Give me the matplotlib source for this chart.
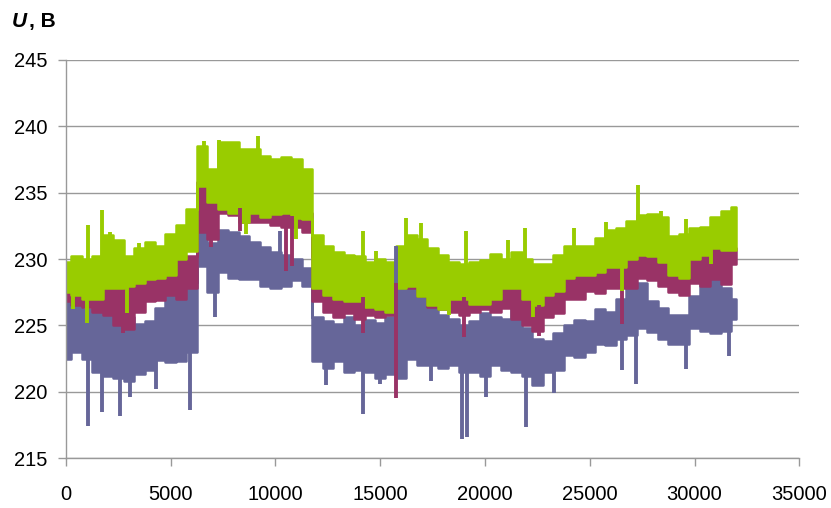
import numpy as np
import matplotlib.pyplot as plt

plt.rcParams['font.family'] = ['Liberation Sans', 'DejaVu Sans']

# band readings every 500 samples, 0 ... 32000
x = np.arange(0, 32001, 500)

green_hi = [229.8, 230.2, 230.0, 230.2, 231.8, 231.4, 230.2, 230.8, 231.3, 231.0,
            231.9, 232.6, 233.8, 238.5, 236.8, 238.8, 238.8, 238.3, 238.3, 237.8,
            237.5, 237.7, 237.5, 236.8, 231.8, 231.0, 230.5, 230.3, 230.2, 229.8,
            230.0, 229.8, 231.0, 231.8, 231.5, 230.8, 230.3, 229.8, 229.6, 229.8,
            229.9, 230.4, 230.0, 230.5, 230.0, 229.6, 229.6, 230.3, 231.0, 231.0,
            231.0, 231.6, 232.2, 232.3, 232.9, 233.3, 233.4, 233.2, 231.7, 231.9,
            232.3, 232.4, 233.2, 233.6, 233.9]
green_lo = [227.5, 227.3, 227.0, 227.0, 227.8, 227.8, 228.0, 228.2, 228.5, 228.6,
            228.8, 230.0, 230.6, 235.5, 234.3, 233.8, 233.5, 232.8, 233.5, 233.2,
            233.4, 233.5, 233.1, 233.0, 227.8, 227.3, 227.0, 226.8, 226.8, 226.4,
            226.2, 226.0, 227.8, 228.0, 227.2, 226.5, 226.2, 227.0, 227.0, 226.6,
            226.6, 227.0, 227.8, 227.8, 227.0, 226.5, 227.3, 227.6, 228.6, 228.8,
            228.8, 229.0, 229.4, 229.4, 230.0, 230.3, 230.2, 229.8, 228.8, 228.6,
            230.0, 230.3, 230.8, 230.7, 230.7]
green_spike_x = [350, 985, 1065, 1730, 2100, 2890, 3500, 6600, 7300, 8600,
                 9160, 11000, 14180, 14810, 16240, 16960, 18300, 19100, 21090, 21900,
                 22270, 24270, 25780, 26560, 27290, 28400, 29590, 30800]
green_spike_y = [226.2, 225.2, 232.6, 233.7, 232.0, 225.9, 231.2, 238.9, 239.0, 231.9,
                 239.3, 231.5, 232.1, 230.6, 233.1, 232.7, 225.8, 232.1, 231.4, 232.3,
                 225.6, 232.3, 232.8, 227.6, 235.6, 233.6, 233.0, 229.6]

magenta_hi = [228.6, 229.0, 228.8, 229.2, 229.0, 228.5, 228.0, 228.5, 228.8, 229.2,
              229.5, 230.1, 230.2, 235.8, 234.8, 235.0, 234.8, 234.5, 234.3, 234.0,
              234.3, 234.2, 234.0, 233.5, 230.2, 229.6, 229.3, 229.0, 228.8, 228.6,
              228.7, 228.5, 230.2, 230.4, 229.8, 229.5, 229.2, 228.8, 228.5, 228.5,
              228.6, 229.0, 229.4, 229.0, 228.5, 228.2, 228.3, 228.6, 229.3, 229.6,
              229.4, 229.5, 230.3, 230.1, 231.0, 231.5, 231.2, 231.0, 230.5, 230.4,
              230.8, 231.0, 231.4, 231.3, 230.8]
magenta_lo = [226.8, 226.5, 226.4, 226.0, 225.8, 225.0, 224.7, 226.0, 226.8, 226.9,
              227.3, 227.0, 227.8, 232.0, 231.5, 233.5, 233.3, 232.8, 232.8, 232.8,
              232.6, 232.4, 232.4, 232.0, 226.8, 226.0, 225.6, 225.9, 225.5, 225.8,
              225.6, 225.8, 228.0, 227.8, 227.2, 226.4, 226.2, 226.0, 225.8, 226.0,
              226.2, 226.0, 226.3, 225.5, 225.0, 224.6, 225.6, 225.9, 227.0, 227.0,
              227.6, 227.4, 227.8, 227.8, 227.8, 228.6, 228.4, 228.0, 227.5, 227.3,
              228.2, 228.0, 228.5, 228.1, 229.6]
magenta_spike_x = [2700, 6900, 8300, 10500, 10800, 14180, 15770, 18990, 22600, 26560]
magenta_spike_y = [224.4, 230.9, 232.1, 229.1, 229.5, 224.4, 219.5, 224.1, 224.2, 225.1]

blue_hi = [226.8, 226.6, 226.2, 226.0, 226.5, 226.0, 225.6, 225.1, 225.3, 226.3,
           227.2, 227.6, 228.3, 232.5, 231.2, 232.2, 232.0, 231.7, 231.3, 230.9,
           230.5, 230.3, 230.0, 229.3, 225.6, 225.3, 225.1, 225.6, 225.0, 225.4,
           225.2, 225.6, 228.3, 228.4, 227.5, 226.8, 225.8, 225.5, 225.0, 225.3,
           225.9, 225.6, 225.5, 226.5, 224.8, 224.0, 223.8, 224.4, 225.0, 225.4,
           225.3, 226.2, 226.0, 227.0, 228.1, 228.2, 226.8, 226.3, 225.8, 225.8,
           227.2, 228.4, 228.8, 227.8, 227.0]
blue_lo = [222.5, 223.0, 222.5, 221.5, 221.2, 221.0, 220.8, 221.3, 221.6, 222.4,
           222.2, 222.3, 223.0, 229.5, 227.5, 229.0, 228.6, 228.5, 228.5, 228.0,
           227.8, 228.0, 228.4, 228.0, 222.3, 221.8, 222.3, 221.5, 221.6, 221.5,
           221.0, 221.3, 221.0, 222.5, 222.0, 222.0, 221.8, 222.0, 221.5, 221.5,
           221.2, 222.0, 221.6, 221.5, 221.2, 220.5, 221.5, 221.6, 222.8, 222.6,
           223.0, 223.6, 223.5, 224.0, 224.3, 224.8, 224.5, 224.0, 223.6, 223.6,
           224.8, 224.6, 224.4, 224.6, 225.5]
blue_spike_x = [1065, 1700, 2575, 3050, 4300, 5910, 7100, 10200, 12400, 14180,
                15000, 15770, 17400, 18900, 19150, 20060, 21964, 23300, 26540, 27210,
                29590, 31660]
blue_spike_y = [217.4, 218.5, 218.2, 219.6, 220.2, 218.6, 225.6, 232.1, 220.5, 218.3,
                220.6, 231.0, 220.8, 216.4, 216.6, 219.6, 217.3, 219.9, 221.6, 220.6,
                221.7, 222.7]

series = [(blue_hi, blue_lo, blue_spike_x, blue_spike_y, '#666699'),
          (magenta_hi, magenta_lo, magenta_spike_x, magenta_spike_y, '#993366'),
          (green_hi, green_lo, green_spike_x, green_spike_y, '#99cc00')]

fig = plt.figure(figsize=(8.31, 5.08), dpi=100)
ax = fig.add_axes([0.0794, 0.0984, 0.8824, 0.7835])

for hi, lo, sx, sy, c in series:
    hi, lo = np.array(hi), np.array(lo)
    ax.fill_between(x, lo, hi, step='mid', color=c, linewidth=1.8, edgecolor=c)
    mid = np.interp(sx, x, (hi + lo) / 2)
    ax.vlines(sx, sy, mid, color=c, linewidth=2.8)

ax.set_xlim(0, 35000)
ax.set_ylim(215, 245)
ax.set_xticks(range(0, 35001, 5000))
ax.set_yticks(range(215, 246, 5))
ax.grid(axis='y', color='#999999', linewidth=1.0)
ax.set_axisbelow(True)

for s in ['top', 'right']:
    ax.spines[s].set_visible(False)
for s in ['left', 'bottom']:
    ax.spines[s].set_color('#999999')
    ax.spines[s].set_linewidth(1.0)

ax.tick_params(axis='both', colors='#999999', labelcolor='black', labelsize=14.5,
               length=5.5, width=1.0)
ax.tick_params(axis='x', pad=14)
ax.tick_params(axis='y', pad=8)

fig.text(0.014, 0.958, 'U', fontsize=15, fontweight='bold', style='italic',
         va='center', ha='left')
fig.text(0.035, 0.958, ', В', fontsize=15, fontweight='bold', va='center', ha='left')

plt.savefig('out.png', dpi=100)
